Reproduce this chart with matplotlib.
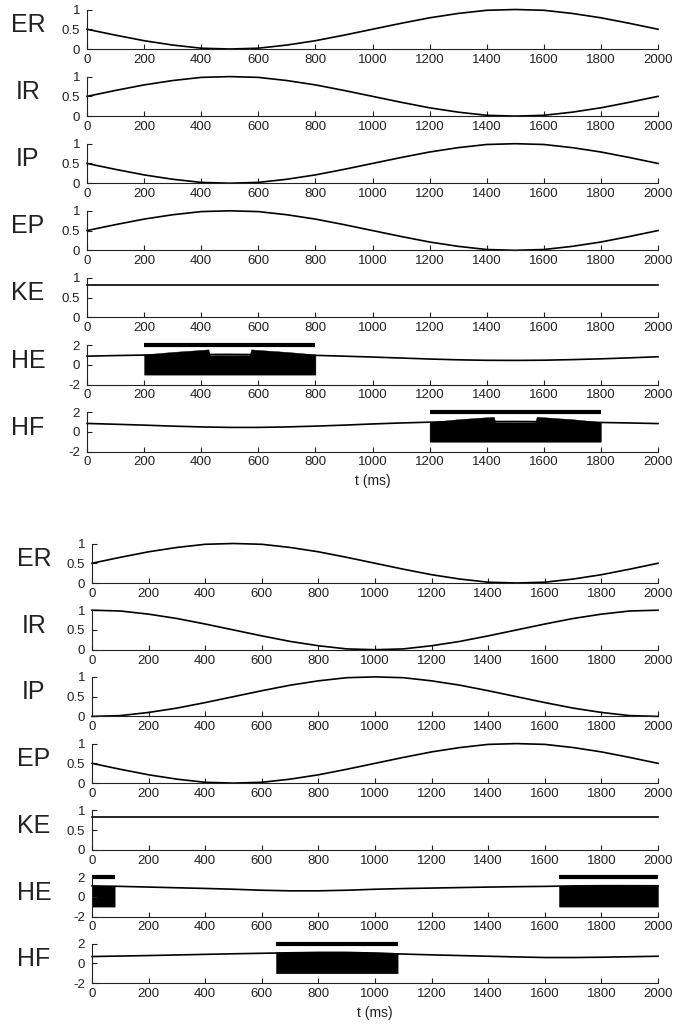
import numpy as np
import matplotlib
matplotlib.use("Agg")
import matplotlib.pyplot as plt

plt.rcParams['font.family'] = ['Liberation Sans', 'DejaVu Sans']

# sample times (ms)
t_ms = np.arange(0, 2001, 100)
ke_t = [0, 2000]

rows = ['ER', 'IR', 'IP', 'EP', 'KE', 'HE', 'HF']

# ---- upper figure ----
er_a = [0.50, 0.35, 0.21, 0.10, 0.02, 0.00, 0.02, 0.10, 0.21, 0.35, 0.50,
        0.65, 0.79, 0.90, 0.98, 1.00, 0.98, 0.90, 0.79, 0.65, 0.50]
ir_a = [0.50, 0.65, 0.79, 0.90, 0.98, 1.00, 0.98, 0.90, 0.79, 0.65, 0.50,
        0.35, 0.21, 0.10, 0.02, 0.00, 0.02, 0.10, 0.21, 0.35, 0.50]
ip_a = [0.50, 0.35, 0.21, 0.10, 0.02, 0.00, 0.02, 0.10, 0.21, 0.35, 0.50,
        0.65, 0.79, 0.90, 0.98, 1.00, 0.98, 0.90, 0.79, 0.65, 0.50]
ep_a = [0.50, 0.65, 0.79, 0.90, 0.98, 1.00, 0.98, 0.90, 0.79, 0.65, 0.50,
        0.35, 0.21, 0.10, 0.02, 0.00, 0.02, 0.10, 0.21, 0.35, 0.50]
ke_a = [0.83, 0.83]
he_a = [0.87, 0.93, 0.98, 1.02, 1.04, 1.05, 1.03, 0.99, 0.95, 0.87, 0.78,
        0.68, 0.58, 0.50, 0.45, 0.44, 0.46, 0.52, 0.60, 0.70, 0.81]
hf_a = [0.85, 0.77, 0.68, 0.58, 0.50, 0.45, 0.45, 0.50, 0.58, 0.68, 0.80,
        0.90, 0.98, 1.02, 1.04, 1.05, 1.03, 1.00, 0.95, 0.90, 0.84]

# burst envelopes (upper edge, lower edge is -1) and stimulus bars
burst_he_a = [([200, 300, 400, 425, 430, 570, 575, 600, 700, 800],
               [1.05, 1.30, 1.50, 1.56, 0.98, 0.98, 1.56, 1.50, 1.30, 1.05])]
burst_hf_a = [([1200, 1300, 1400, 1425, 1430, 1570, 1575, 1600, 1700, 1800],
               [1.00, 1.28, 1.48, 1.52, 0.97, 0.97, 1.52, 1.48, 1.28, 1.00])]
bars_he_a = [(200, 800)]
bars_hf_a = [(1200, 1800)]

# ---- lower figure ----
er_b = [0.50, 0.65, 0.79, 0.90, 0.98, 1.00, 0.98, 0.90, 0.79, 0.65, 0.50,
        0.35, 0.21, 0.10, 0.02, 0.00, 0.02, 0.10, 0.21, 0.35, 0.50]
ir_b = [1.00, 0.98, 0.90, 0.79, 0.65, 0.50, 0.35, 0.21, 0.10, 0.02, 0.00,
        0.02, 0.10, 0.21, 0.35, 0.50, 0.65, 0.79, 0.90, 0.98, 1.00]
ip_b = [0.00, 0.02, 0.10, 0.21, 0.35, 0.50, 0.65, 0.79, 0.90, 0.98, 1.00,
        0.98, 0.90, 0.79, 0.65, 0.50, 0.35, 0.21, 0.10, 0.02, 0.00]
ep_b = [0.50, 0.35, 0.21, 0.10, 0.02, 0.00, 0.02, 0.10, 0.21, 0.35, 0.50,
        0.65, 0.79, 0.90, 0.98, 1.00, 0.98, 0.90, 0.79, 0.65, 0.50]
ke_b = [0.83, 0.83]
he_b = [1.10, 1.05, 0.98, 0.91, 0.84, 0.76, 0.66, 0.60, 0.60, 0.66, 0.76,
        0.83, 0.88, 0.93, 0.98, 1.02, 1.05, 1.10, 1.12, 1.12, 1.11]
hf_b = [0.70, 0.75, 0.80, 0.86, 0.92, 0.98, 1.03, 1.08, 1.12, 1.12, 1.05,
        0.95, 0.87, 0.80, 0.73, 0.66, 0.60, 0.60, 0.63, 0.68, 0.73]

burst_he_b = [([0, 80], [1.10, 1.08]),
              ([1650, 1700, 1800, 1900, 2000], [1.08, 1.12, 1.14, 1.13, 1.12])]
burst_hf_b = [([650, 800, 900, 1000, 1080], [1.12, 1.15, 1.15, 1.12, 1.08])]
bars_he_b = [(0, 80), (1650, 2000)]
bars_hf_b = [(650, 1080)]

W, H = 673, 1024
fig = plt.figure(figsize=(W / 100, H / 100), dpi=100)


def style_axes(ax, ylim, yticks, yticklabels):
    ax.set_xlim(0, 2000)
    ax.set_ylim(*ylim)
    ax.set_xticks(np.arange(0, 2001, 200))
    ax.set_yticks(yticks)
    ax.set_yticklabels(yticklabels)
    for s in ['top', 'right']:
        ax.spines[s].set_visible(False)
    for s in ['left', 'bottom']:
        ax.spines[s].set_linewidth(0.8)
        ax.spines[s].set_color('#222222')
    ax.tick_params(direction='in', length=3.5, width=0.8, color='#222222',
                   labelsize=9.5, labelcolor='#222222')
    ax.tick_params(axis='x', pad=3.5)
    ax.tick_params(axis='y', pad=5)
    ax.patch.set_alpha(0)


def draw_panel(series, bursts, bars, left_px, first_bottom, step, label_x):
    axes = []
    for i, name in enumerate(rows):
        bottom_px = first_bottom + i * step
        ax = fig.add_axes([left_px / W, 1 - bottom_px / H,
                           (658 - left_px) / W, 39.5 / H])
        x, y = series[i]
        if name in ('HE', 'HF'):
            style_axes(ax, (-2, 2), [-2, 0, 2], ['-2', '0', '2'])
            for bx, btop in bursts[name]:
                ax.fill_between(bx, -1, btop, color='black', lw=0.3)
            for x0, x1 in bars[name]:
                ax.plot([x0, x1], [2, 2], color='black', lw=3,
                        solid_capstyle='butt', clip_on=False)
        else:
            style_axes(ax, (0, 1), [0, 0.5, 1], ['0', '0.5', '1'])
        ax.plot(x, y, color='black', lw=1.2, clip_on=False)
        fig.text(label_x / W, 1 - (bottom_px - 24) / H, name,
                 fontsize=18, ha='center', va='center', color='#222222')
        axes.append(ax)
    axes[-1].set_xlabel('t (ms)', fontsize=10, color='#222222', labelpad=4)
    return axes


draw_panel([(t_ms, er_a), (t_ms, ir_a), (t_ms, ip_a), (t_ms, ep_a),
            (ke_t, ke_a), (t_ms, he_a), (t_ms, hf_a)],
           {'HE': burst_he_a, 'HF': burst_hf_a},
           {'HE': bars_he_a, 'HF': bars_hf_a},
           87, 49, 67.1, 28)

draw_panel([(t_ms, er_b), (t_ms, ir_b), (t_ms, ip_b), (t_ms, ep_b),
            (ke_t, ke_b), (t_ms, he_b), (t_ms, hf_b)],
           {'HE': burst_he_b, 'HF': burst_hf_b},
           {'HE': bars_he_b, 'HF': bars_hf_b},
           92, 583, 66.7, 34)

fig.savefig('out.png', dpi=100)
